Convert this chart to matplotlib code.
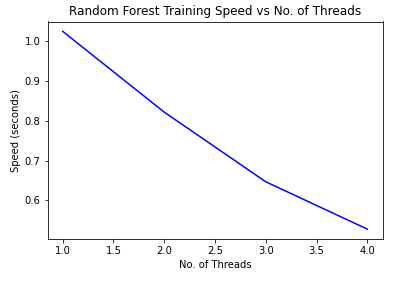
import matplotlib
matplotlib.use("Agg")
import matplotlib.pyplot as plt

threads = [1, 2, 3, 4]
speed = [1.025, 0.822, 0.647, 0.528]

W, H, DPI = 414, 286, 72
fig = plt.figure(figsize=(W / DPI, H / DPI), dpi=DPI)
fig.subplots_adjust(left=47.5 / W, right=382.5 / W, top=1 - 21.5 / H, bottom=1 - 239 / H)
ax = fig.add_subplot(111)
ax.plot(threads, speed, color="blue")
ax.set_title("Random Forest Training Speed vs No. of Threads")
ax.set_xlabel("No. of Threads")
ax.set_ylabel("Speed (seconds)")
fig.savefig("out.png", dpi=DPI)
